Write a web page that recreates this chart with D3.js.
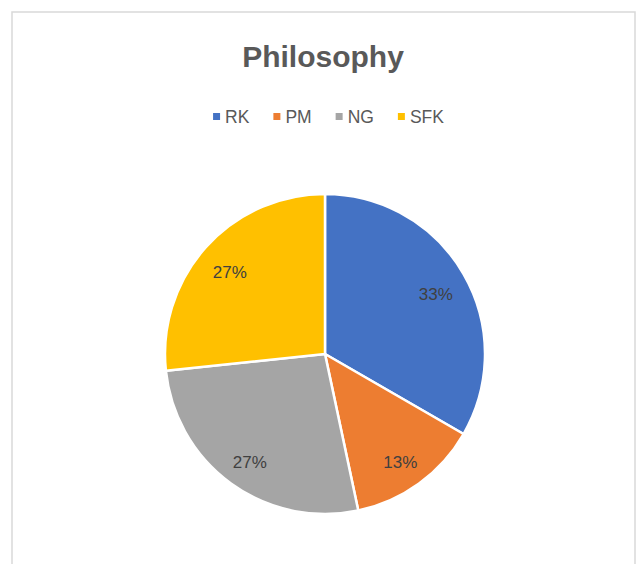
<!DOCTYPE html>
<html><head><meta charset="utf-8">
<script src="https://cdn.jsdelivr.net/npm/d3@7"></script>
<style>body{margin:0;background:#fff}svg{display:block}</style>
</head><body>
<svg id="chart" width="639" height="564"></svg>
<script>
const categories = ["RK", "PM", "NG", "SFK"];
const values = [5, 2, 4, 4];
const colors = ["#4472C4", "#ED7D31", "#A5A5A5", "#FFC000"];
const title = "Philosophy";

const W = 639, H = 564;
const svg = d3.select("#chart");
svg.append("rect").attr("x", 12).attr("y", 12).attr("width", 623).attr("height", 560)
  .attr("fill", "#fff").attr("stroke", "#D9D9D9").attr("stroke-width", 1.5);

svg.append("text").attr("x", 323).attr("y", 67).attr("text-anchor", "middle")
  .attr("font-family", "Liberation Sans, Arial, sans-serif").attr("font-weight", "bold")
  .attr("font-size", 30).attr("fill", "#595959").text(title);

// legend
const color = d3.scaleOrdinal().domain(categories).range(colors);
const leg = svg.append("g");
let x = 0;
const gap = 24;
categories.forEach((c) => {
  const g = leg.append("g").attr("transform", `translate(${x},0)`);
  g.append("rect").attr("x", 0).attr("y", -10).attr("width", 7).attr("height", 7).attr("fill", color(c));
  const t = g.append("text").attr("x", 12).attr("y", 0)
    .attr("font-family", "Liberation Sans, Arial, sans-serif").attr("font-size", 17.5)
    .attr("fill", "#595959").text(c);
  x += 12 + t.node().getComputedTextLength() + gap;
});
const legW = x - gap;
leg.attr("transform", `translate(${(W - legW) / 2 + 9},123)`);

// pie
const cx = 325, cy = 354, R = 160;
const pie = d3.pie().sort(null).value(d => d.v);
const data = pie(categories.map((c, i) => ({ c, v: values[i] })));
const total = d3.sum(values);
const arc = d3.arc().innerRadius(0).outerRadius(R);
const labelArc = d3.arc().innerRadius(128).outerRadius(128);
const pg = svg.append("g").attr("transform", `translate(${cx},${cy})`);
pg.selectAll("path").data(data).join("path")
  .attr("d", arc).attr("fill", d => color(d.data.c))
  .attr("stroke", "#fff").attr("stroke-width", 2.5).attr("stroke-linejoin", "round");
pg.selectAll("text").data(data).join("text")
  .attr("transform", d => { const p = labelArc.centroid(d); return `translate(${p[0]},${p[1] + 4})`; })
  .attr("text-anchor", "middle").attr("dy", "0.35em")
  .attr("font-family", "Liberation Sans, Arial, sans-serif").attr("font-size", 17)
  .attr("fill", "#404040")
  .text(d => Math.round(d.data.v / total * 100) + "%");
</script>
</body></html>
